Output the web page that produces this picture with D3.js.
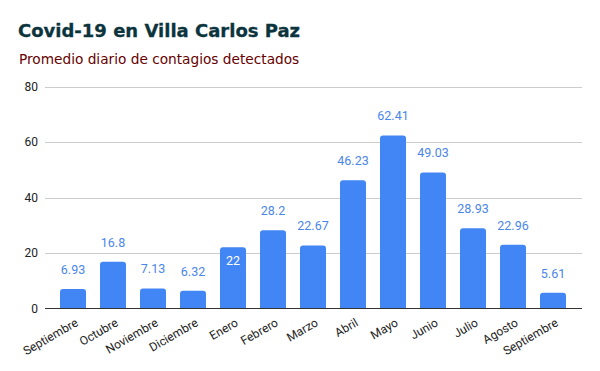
<!DOCTYPE html>
<html>
<head>
<meta charset="utf-8">
<script src="https://cdn.jsdelivr.net/npm/d3@7"></script>
<style>
  body { margin: 0; background: #fff; }
  svg { display: block; }
</style>
</head>
<body>
<svg width="600" height="371"></svg>
<script>
const months = ["Septiembre", "Octubre", "Noviembre", "Diciembre", "Enero", "Febrero",
    "Marzo", "Abril", "Mayo", "Junio", "Julio", "Agosto", "Septiembre"];
const values = [6.93, 16.8, 7.13, 6.32, 22, 28.2, 22.67, 46.23, 62.41, 49.03, 28.93, 22.96, 5.61];
const yTicks = [0, 20, 40, 60, 80];
// Google puts this one label inside its bar
const labelInside = [false, false, false, false, true, false, false, false, false, false, false, false, false];

const svg = d3.select("svg");

const x = d3.scaleBand()
    .domain(d3.range(months.length))
    .range([53, 573])
    .paddingInner(0.35)
    .paddingOuter(0.175);

const y = d3.scaleLinear()
    .domain([0, 80])
    .range([308.3, 86.7]);

svg.append("text")
    .attr("x", 18).attr("y", 37)
    .attr("font-family", "DejaVu Sans")
    .attr("font-weight", "bold")
    .attr("font-size", 18)
    .attr("fill", "#0c343d")
    .attr("stroke", "#0c343d")
    .attr("stroke-width", 0.3)
    .text("Covid-19 en Villa Carlos Paz");

svg.append("text")
    .attr("x", 19).attr("y", 64)
    .attr("font-family", "DejaVu Sans")
    .attr("font-size", 13.7)
    .attr("fill", "#660000")
    .text("Promedio diario de contagios detectados");

// gridlines
svg.append("g")
    .selectAll("line")
    .data(yTicks.filter(d => d > 0))
    .join("line")
    .attr("x1", 45).attr("x2", 582)
    .attr("y1", d => Math.round(y(d)) + 0.5)
    .attr("y2", d => Math.round(y(d)) + 0.5)
    .attr("stroke", "#cccccc");

svg.append("g")
    .selectAll("text")
    .data(yTicks)
    .join("text")
    .attr("x", 38)
    .attr("y", d => y(d))
    .attr("dy", "0.35em")
    .attr("text-anchor", "end")
    .attr("font-family", "Roboto")
    .attr("font-size", 12)
    .attr("fill", "#222")
    .text(d => d);

const r = 3;
svg.append("g")
    .selectAll("path")
    .data(values)
    .join("path")
    .attr("fill", "#4285f4")
    .attr("d", (d, i) => {
        const x0 = x(i), x1 = x(i) + x.bandwidth();
        const y0 = y(0), y1 = y(d);
        return `M${x0},${y0}V${y1 + r}Q${x0},${y1} ${x0 + r},${y1}H${x1 - r}Q${x1},${y1} ${x1},${y1 + r}V${y0}Z`;
    });

// baseline
svg.append("line")
    .attr("x1", 45).attr("x2", 582)
    .attr("y1", 308.5).attr("y2", 308.5)
    .attr("stroke", "#333");

svg.append("g")
    .selectAll("text")
    .data(values)
    .join("text")
    .attr("x", (d, i) => x(i) + x.bandwidth() / 2)
    .attr("y", (d, i) => labelInside[i] ? y(d) + 13 : y(d) - 19.5)
    .attr("dy", "0.35em")
    .attr("text-anchor", "middle")
    .attr("font-family", "Roboto")
    .attr("font-size", 12.5)
    .attr("fill", (d, i) => labelInside[i] ? "#ffffff" : "#4a86e8")
    .text(d => d);

svg.append("g")
    .selectAll("text")
    .data(months)
    .join("text")
    .attr("transform", (d, i) => `translate(${x(i) + x.bandwidth() / 2 + 6},325) rotate(-30)`)
    .attr("text-anchor", "end")
    .attr("font-family", "Roboto")
    .attr("font-size", 12)
    .attr("fill", "#222")
    .text(d => d);
</script>
</body>
</html>
